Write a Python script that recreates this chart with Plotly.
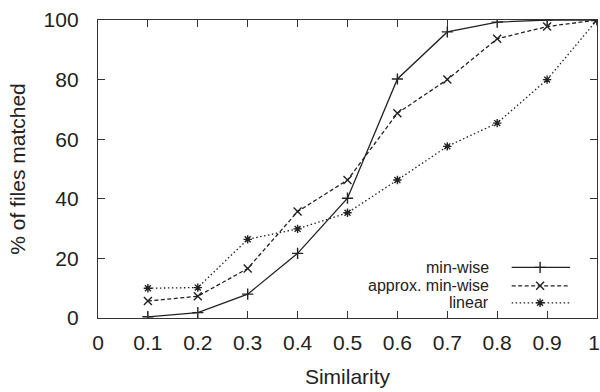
import plotly.graph_objects as go

similarity = [0.1, 0.2, 0.3, 0.4, 0.5, 0.6, 0.7, 0.8, 0.9, 1.0]
min_wise = [0.4, 1.8, 8.0, 21.7, 40.2, 80.2, 96.0, 99.3, 100.0, 100.0]
approx_min_wise = [5.7, 7.3, 16.6, 35.7, 46.3, 68.7, 80.0, 93.7, 97.8, 100.0]
linear = [10.0, 10.2, 26.4, 29.9, 35.3, 46.3, 57.6, 65.4, 80.0, 100.0]

x_ticks = [0, 0.1, 0.2, 0.3, 0.4, 0.5, 0.6, 0.7, 0.8, 0.9, 1]
x_tick_labels = ["0", "0.1", "0.2", "0.3", "0.4", "0.5", "0.6", "0.7", "0.8", "0.9", "1\u00a0"]
y_ticks = [0, 20, 40, 60, 80, 100]

names = ["min-wise", "approx. min-wise", "linear"]
series = [min_wise, approx_min_wise, linear]
dashes = ["solid", "4px,2.5px", "1.5px,2.5px"]
symbols = ["cross-thin-open", "x-thin-open", "asterisk-open"]
sizes = [8, 8, 7]

ink = "#222222"
font = "Liberation Sans, Arial, sans-serif"

fig = go.Figure()
for name, ys, d, s, sz in zip(names, series, dashes, symbols, sizes):
    fig.add_trace(go.Scatter(
        x=similarity, y=ys, mode="lines+markers", name=name,
        line=dict(color=ink, width=1.3, dash=d),
        marker=dict(symbol=s, size=sz, color=ink, line=dict(color=ink, width=1.4)),
        showlegend=False,
    ))

# custom legend (text left of sample, gnuplot style) on an overlay axis
leg_rows = [0.170, 0.108, 0.051]
for name, row, d, s, sz in zip(names, leg_rows, dashes, symbols, sizes):
    fig.add_trace(go.Scatter(
        x=[0.829, 0.886, 0.946], y=[row, row, row], mode="lines",
        line=dict(color=ink, width=1.3, dash=d),
        xaxis="x2", yaxis="y2", showlegend=False, hoverinfo="skip",
    ))
    fig.add_trace(go.Scatter(
        x=[0.886], y=[row], mode="markers",
        marker=dict(symbol=s, size=sz, color=ink, line=dict(color=ink, width=1.4)),
        xaxis="x2", yaxis="y2", showlegend=False, hoverinfo="skip",
    ))
    fig.add_annotation(
        x=0.782, y=row, xref="x2", yref="y2", text=name, showarrow=False,
        xanchor="right", yanchor="middle", xshift=2, borderpad=0,
        font=dict(size=16, color=ink, family=font),
    )

axis_common = dict(
    showline=True, linecolor="#333333", linewidth=1.3, mirror="allticks",
    ticks="inside", ticklen=7, tickwidth=1.3, tickcolor="#333333",
    showgrid=False, zeroline=False, automargin=False,
    tickfont=dict(size=21, color=ink, family=font),
)

fig.update_layout(
    width=600, height=392,
    margin=dict(l=98, r=3, t=20, b=74, autoexpand=False),
    plot_bgcolor="white", paper_bgcolor="white",
    xaxis=dict(range=[0, 1], tickvals=x_ticks, ticktext=x_tick_labels,
               title=dict(text="Similarity", font=dict(size=21, color=ink, family=font), standoff=15),
               ticklabelstandoff=6, ticklabeloverflow="allow", **axis_common),
    yaxis=dict(range=[0, 100], tickvals=y_ticks,
               title=dict(text="% of files matched", font=dict(size=21, color=ink, family=font), standoff=12),
               ticklabelstandoff=14, ticklabeloverflow="allow", **axis_common),
    xaxis2=dict(range=[0, 1], overlaying="x", visible=False),
    yaxis2=dict(range=[0, 1], overlaying="y", visible=False),
)

fig.write_html("out.html")
